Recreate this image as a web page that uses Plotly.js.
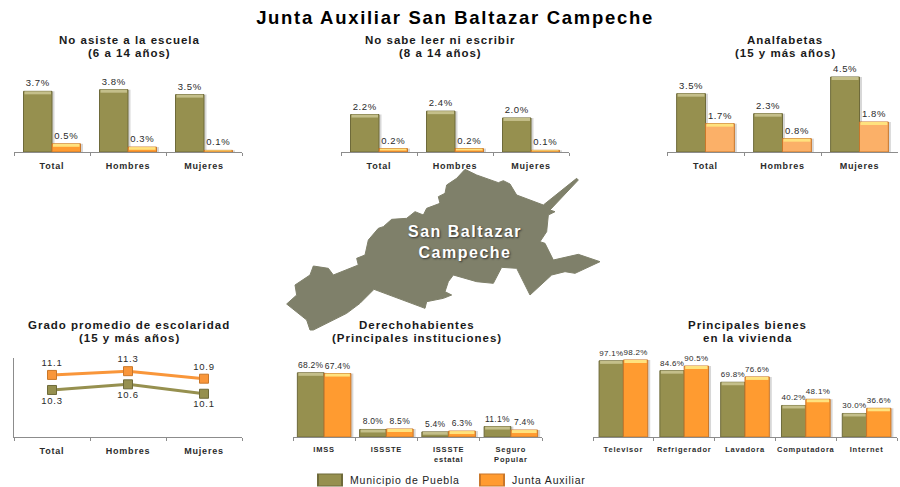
<!DOCTYPE html>
<html><head><meta charset="utf-8">
<script src="https://cdn.plot.ly/plotly-3.0.1.min.js"></script>
<style>
html,body{margin:0;padding:0;background:#fff}
svg text{letter-spacing:.8px}
.gtitle{letter-spacing:1.7px !important}
.annotation-text{letter-spacing:1px !important}
.annotation-text[style*="font-size: 16px"]{letter-spacing:1.5px !important}
text.bartext{letter-spacing:.6px !important}
text.bartext[style*="font-size: 8"]{letter-spacing:.3px !important}
.legendpoints path{transform:translate(20px,0) scaleX(2) !important}
</style></head><body><div id="chart" style="width:900px;height:487px"></div>
<script>
const chartTitle = 'Junta Auxiliar San Baltazar Campeche';
const seriesA = 'Municipio de Puebla';
const seriesB = 'Junta Auxiliar';
const sexCats = ['Total','Hombres','Mujeres'];

const noAsisteA = [3.7,3.8,3.5];
const noAsisteB = [0.5,0.3,0.1];
const noSabeA = [2.2,2.4,2.0];
const noSabeB = [0.2,0.2,0.1];
const analfA = [3.5,2.3,4.5];
const analfB = [1.7,0.8,1.8];
const gradoA = [10.3,10.6,10.1];
const gradoB = [11.1,11.3,10.9];
const derechoCats = ['IMSS','ISSSTE','ISSSTE<br>estatal','Seguro<br>Popular'];
const derechoA = [68.2,8.0,5.4,11.1];
const derechoB = [67.4,8.5,6.3,7.4];
const bienesCats = ['Televisor','Refrigerador','Lavadora','Computadora','Internet'];
const bienesA = [97.1,84.6,69.8,40.2,30.0];
const bienesB = [98.2,90.5,76.6,48.1,36.6];

// Outline of the locality (map units, y downwards)
const mapX = [645,680,745,760,780,800,880,980,985,900,915,895,890,870,885,910,985,1050,975,945,905,840,800,755,730,680,610,595,585,605,580,530,525,372,330,290,190,180,170,110,140,135,180,190,235,250,325,320,345,355,385,400,425,470,495,520,530,570,565,585,590,620];
const mapY = [28,45,68,62,72,105,135,55,60,150,155,165,215,245,250,300,283,305,340,335,345,405,325,322,370,365,345,365,395,405,415,425,445,388,430,460,510,510,480,432,405,375,345,318,325,345,315,295,285,240,205,200,178,175,155,165,145,130,110,100,75,55];

const W = 900, H = 487;
const OLIVE='#96904F', OLIVE_E='#6E6A3A', OLIVE_T='#C4BF8A';
const ORANGE='#FF9B30', ORANGE_E='#C9772A', ORANGE_T='#FFE27E';
const SOFT='#FBB068';
const AXC='#8C8C8C', TXT='#2B2B2B';
const FF='"Liberation Sans", Arial, sans-serif';

const traces=[], layout={
  width:W,height:H,margin:{l:0,r:0,t:0,b:0,autoexpand:false},paper_bgcolor:'#fff',plot_bgcolor:'rgba(0,0,0,0)',
  barmode:'overlay',hovermode:false,
  font:{family:FF,color:TXT},
  title:{text:chartTitle,x:455/W,xanchor:'center',y:1-18/H,yanchor:'middle',font:{size:18.5,family:FF,weight:700,color:'#000'}},
  showlegend:true,
  legend:{orientation:'h',x:310/W,xanchor:'left',y:1-480/H,yanchor:'middle',font:{size:10.5,family:FF,color:'#222'},traceorder:'normal',entrywidth:117,entrywidthmode:'pixels',bgcolor:'rgba(0,0,0,0)'},
  annotations:[],
  uniformtext:{mode:false}
};

function axes(i,x0,x1,y0,y1,rangeY,n,tickSize,showY){
  const s=i===1?'':String(i);
  layout['xaxis'+s]={anchor:'y'+s,domain:[x0/W,x1/W],type:'category',range:[-0.5,n-0.5],tickson:'boundaries',
    showgrid:false,zeroline:false,showline:true,linecolor:AXC,linewidth:1,ticks:'outside',ticklen:3,tickcolor:AXC,
    ticklabelstandoff:5,tickangle:0,tickfont:{size:tickSize,family:FF,weight:700,color:TXT},fixedrange:true};
  layout['yaxis'+s]={anchor:'x'+s,domain:[1-y1/H,1-y0/H],range:rangeY,visible:!!showY,showgrid:false,zeroline:false,
    showline:!!showY,linecolor:AXC,linewidth:1,showticklabels:false,ticks:'',fixedrange:true};
}
function barPanel(i,box,cats,a,b,yMax,halfW,o){
  o=o||{};
  const [x0,x1,y0,y1]=box, s=i===1?'':String(i);
  axes(i,x0,x1,y0,y1,[0,yMax],cats.length,o.tick||9);
  const pxU=(y1-y0)/yMax, catPx=(x1-x0)/cats.length, stripPx=o.strip||3;
  const add=(vals,name,col,edge,top,off,legend)=>{
    traces.push({type:'bar',x:cats,y:vals,xaxis:'x'+s,yaxis:'y'+s,offset:off+1.5/catPx,width:halfW+1/catPx,
      marker:{color:'rgba(110,110,110,.28)',line:{width:0}},showlegend:false,hoverinfo:'skip'});
    traces.push({type:'bar',name,x:cats,y:vals,xaxis:'x'+s,yaxis:'y'+s,offset:off,width:halfW,
      marker:{color:col,line:{color:edge,width:1}},showlegend:legend,
      text:vals.map(v=>v.toFixed(1)+'%'),textposition:'outside',textangle:0,constraintext:'none',cliponaxis:false,
      textfont:{size:o.lab||9.5,family:FF,color:TXT}});
    const hs=vals.map(v=>Math.min(stripPx/pxU,v*0.55));
    traces.push({type:'bar',x:cats,y:hs,base:vals.map((v,k)=>v-hs[k]),xaxis:'x'+s,yaxis:'y'+s,
      offset:off+1/catPx,width:halfW-2/catPx,marker:{color:top,line:{width:0}},showlegend:false,hoverinfo:'skip'});
  };
  add(a,seriesA,OLIVE,OLIVE_E,OLIVE_T,-halfW,!!o.legend);
  add(b,seriesB,o.orange||ORANGE,ORANGE_E,ORANGE_T,0,!!o.legend);
}
function note(text,x,y,size,extra){
  layout.annotations.push(Object.assign({text,x:x/W,y:1-y/H,xref:'paper',yref:'paper',xanchor:'center',yanchor:'middle',showarrow:false,
    font:{size,family:FF,weight:700,color:'#1a1a1a'}},extra||{}));
}

barPanel(1,[14,242,72,152],sexCats,noAsisteA,noAsisteB,4.88,0.375,{legend:true});
barPanel(2,[341,569,72,152],sexCats,noSabeA,noSabeB,4.7,0.375);
barPanel(3,[667,898,72,152],sexCats,analfA,analfB,4.8,0.375,{orange:SOFT});
barPanel(5,[293,542,357,437],derechoCats,derechoA,derechoB,85,0.43,{tick:7.5,lab:8.5,strip:3});
barPanel(6,[593,897,357,437],bienesCats,bienesA,bienesB,102,0.4,{tick:7.5,lab:8,strip:3});

// Line panel
axes(4,14,242,358,437,[7.8,12],3,9,true);
[[gradoA,OLIVE,OLIVE_E,'bottom center'],[gradoB,'#F9963A',ORANGE_E,'top center']].forEach(([v,c,e,p])=>{
  traces.push({type:'scatter',mode:'lines+markers+text',x:sexCats,y:v,xaxis:'x4',yaxis:'y4',showlegend:false,
    line:{color:c,width:3},marker:{symbol:'square',size:9,color:c,line:{color:e,width:1}},
    text:v.map(n=>n.toFixed(1)),textposition:p,textfont:{size:9.5,family:FF,color:TXT},cliponaxis:false});
});

// Map
layout.xaxis7={anchor:'y7',domain:[250/W,600/W],range:[0,1050],visible:false,fixedrange:true};
layout.yaxis7={anchor:'x7',domain:[1-340/H,1-160/H],range:[540,0],visible:false,fixedrange:true};
traces.push({type:'scatter',mode:'lines',x:mapX.concat(mapX[0]),y:mapY.concat(mapY[0]),xaxis:'x7',yaxis:'y7',fill:'toself',
  fillcolor:'#7F806A',line:{color:'#7F806A',width:1},showlegend:false,hoverinfo:'skip'});

const TS=11.5;
note('No asiste a la escuela',129,40,TS); note('(6 a 14 años)',129,52.5,TS);
note('No sabe leer ni escribir',440,40,TS); note('(8 a 14 años)',440,52.5,TS);
note('Analfabetas',785,40,TS); note('(15 y más años)',785,52.5,TS);
note('Grado promedio de escolaridad',129,325,TS); note('(15 y más años)',129,337.5,TS);
note('Derechohabientes',417,325,TS); note('(Principales instituciones)',417,337.5,TS);
note('Principales bienes',747,325,TS); note('en la vivienda',747,337.5,TS);
note('San Baltazar<br>Campeche',465,241.5,16,{font:{size:16,family:FF,weight:700,color:'#fff',shadow:'1px 1px 2px #333'}});

Plotly.newPlot('chart',traces,layout,{displayModeBar:false,staticPlot:true});
</script></body></html>
